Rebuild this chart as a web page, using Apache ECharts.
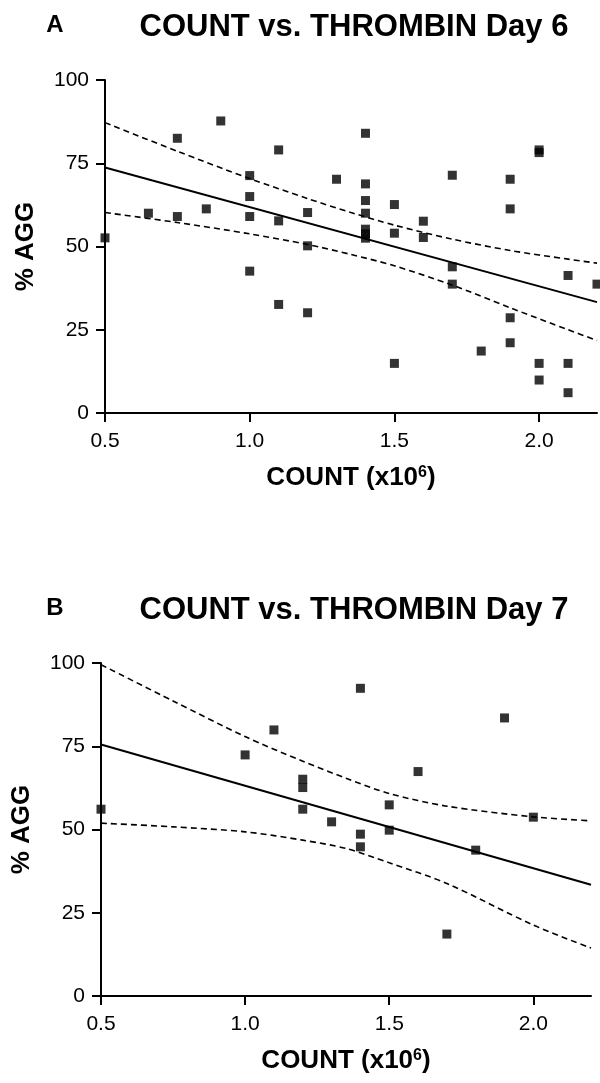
<!DOCTYPE html>
<html>
<head>
<meta charset="utf-8">
<script src="https://cdn.jsdelivr.net/npm/echarts@6/dist/echarts.min.js"></script>
<style>
  html, body { margin: 0; padding: 0; background: #fff; }
  #chart { width: 600px; height: 1083px; }
</style>
</head>
<body>
<div id="chart"></div>
<script>
// Day 6 scatter (count x10^6, % aggregation)
var countA = [0.5, 0.65, 0.75, 0.75, 0.85, 0.9, 1.0, 1.0, 1.0, 1.0, 1.1, 1.1, 1.1, 1.2, 1.2, 1.2, 1.3,
              1.4, 1.4, 1.4, 1.4, 1.4, 1.4, 1.4, 1.5, 1.5, 1.5, 1.6, 1.6, 1.7, 1.7, 1.7, 1.8,
              1.9, 1.9, 1.9, 1.9, 2.0, 2.0, 2.0, 2.0, 2.1, 2.1, 2.1, 2.2];
var aggA = [52.6, 60.0, 82.5, 59.0, 61.3, 87.7, 71.3, 65.0, 59.0, 42.6, 79.0, 57.7, 32.6, 60.2, 50.2, 30.1, 70.2,
            84.0, 68.8, 63.8, 60.0, 55.2, 53.8, 52.5, 62.6, 54.0, 14.9, 57.6, 52.7, 71.4, 43.9, 38.7, 18.6,
            70.2, 61.3, 28.6, 21.1, 79.0, 78.2, 14.9, 9.9, 41.3, 14.9, 6.1, 38.7];
var fitXA = [0.5, 2.2];
var fitYA = [73.7, 33.3];
var bandXA = [0.5, 0.75, 1.0, 1.2, 1.35, 1.5, 1.7, 1.9, 2.1, 2.2];
var upperA = [87.2, 78.6, 70.4, 64.4, 60.2, 56.4, 52.2, 48.8, 46.2, 45.0];
var lowerA = [60.2, 57.2, 53.8, 50.6, 47.6, 44.2, 38.4, 31.6, 25.0, 21.8];

// Day 7 scatter
var countB = [0.5, 1.0, 1.1, 1.2, 1.2, 1.2, 1.3, 1.4, 1.4, 1.4, 1.5, 1.5, 1.6, 1.7, 1.8, 1.9, 2.0];
var aggB = [56.1, 72.4, 79.9, 65.1, 62.6, 56.1, 52.3, 92.4, 48.6, 44.8, 57.4, 49.8, 67.4, 18.6, 43.8, 83.5, 53.7];
var fitXB = [0.5, 2.2];
var fitYB = [75.5, 33.4];
var bandXB = [0.5, 0.75, 1.0, 1.2, 1.35, 1.5, 1.7, 2.0, 2.2];
var upperB = [99.5, 88.6, 77.9, 70.5, 65.4, 60.8, 57.0, 53.8, 52.6];
var lowerB = [51.9, 50.8, 49.3, 46.8, 44.3, 40.0, 33.8, 21.3, 14.4];

var xTicks = [0.5, 1.0, 1.5, 2.0];
var titles = ['COUNT vs. THROMBIN Day 6', 'COUNT vs. THROMBIN Day 7'];
var panelTags = ['A', 'B'];

var FONT = '"Liberation Sans", Arial, Helvetica, sans-serif';

function pairs(xs, ys) {
    var out = [];
    for (var i = 0; i < xs.length; i++) {
        out.push([xs[i], ys[i]]);
    }
    return out;
}

function makeXAxis(idx) {
    return {
        gridIndex: idx,
        type: 'value',
        min: 0.5,
        max: 2.2,
        interval: 0.5,
        name: 'COUNT (x10{sup|6})',
        nameLocation: 'middle',
        nameGap: 52,
        nameTextStyle: {
            fontFamily: FONT, fontSize: 26, fontWeight: 'bold', color: '#000',
            rich: {
                sup: { fontFamily: FONT, fontSize: 16, fontWeight: 'bold', color: '#000', verticalAlign: 'top' }
            }
        },
        axisLine: { onZero: false, lineStyle: { color: '#000', width: 2 } },
        axisTick: { length: 9, customValues: xTicks, lineStyle: { color: '#000', width: 2 } },
        axisLabel: {
            customValues: xTicks, margin: 18,
            fontFamily: FONT, fontSize: 21, color: '#000',
            formatter: function(v) { return v.toFixed(1); }
        },
        splitLine: { show: false }
    };
}

function makeYAxis(idx) {
    return {
        gridIndex: idx,
        type: 'value',
        min: 0,
        max: 100,
        interval: 25,
        name: '% AGG',
        nameLocation: 'middle',
        nameGap: 66,
        nameTextStyle: { fontFamily: FONT, fontSize: 26, fontWeight: 'bold', color: '#000' },
        axisLine: { show: true, onZero: false, lineStyle: { color: '#000', width: 2 } },
        axisTick: { show: true, length: 9, lineStyle: { color: '#000', width: 2 } },
        axisLabel: { margin: 16, fontFamily: FONT, fontSize: 21, color: '#000' },
        splitLine: { show: false }
    };
}

function scatterSeries(idx, xs, ys) {
    return {
        type: 'scatter',
        xAxisIndex: idx, yAxisIndex: idx,
        symbol: 'rect',
        symbolSize: 9,
        itemStyle: { color: '#000' },
        data: pairs(xs, ys),
        z: 5
    };
}

function lineSeries(idx, xs, ys, dashed) {
    return {
        type: 'line',
        xAxisIndex: idx, yAxisIndex: idx,
        data: pairs(xs, ys),
        showSymbol: false,
        smooth: dashed ? 0.3 : false,
        lineStyle: { color: '#000', width: dashed ? 1.6 : 2, type: dashed ? [6, 4] : 'solid' },
        silent: true
    };
}

var graphics = [];
var titleY = [27, 610];
for (var p = 0; p < 2; p++) {
    graphics.push({
        type: 'text', x: 354, y: titleY[p],
        style: { text: titles[p], font: 'bold 31px ' + FONT, fill: '#000', align: 'center', verticalAlign: 'middle' }
    });
    graphics.push({
        type: 'text', x: 55, y: titleY[p] - 2,
        style: { text: panelTags[p], font: 'bold 24px ' + FONT, fill: '#000', align: 'center', verticalAlign: 'middle' }
    });
}

var option = {
    backgroundColor: '#fff',
    animation: false,
    graphic: graphics,
    grid: [
        { left: 105, top: 80, width: 492, height: 333 },
        { left: 101, top: 663, width: 490, height: 333 }
    ],
    xAxis: [makeXAxis(0), makeXAxis(1)],
    yAxis: [makeYAxis(0), makeYAxis(1)],
    series: [
        scatterSeries(0, countA, aggA),
        lineSeries(0, fitXA, fitYA, false),
        lineSeries(0, bandXA, upperA, true),
        lineSeries(0, bandXA, lowerA, true),
        scatterSeries(1, countB, aggB),
        lineSeries(1, fitXB, fitYB, false),
        lineSeries(1, bandXB, upperB, true),
        lineSeries(1, bandXB, lowerB, true)
    ]
};

echarts.init(document.getElementById('chart'), null, { renderer: 'canvas' }).setOption(option);
</script>
</body>
</html>
